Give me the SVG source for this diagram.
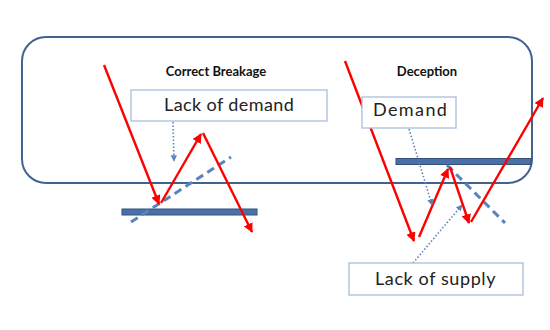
<svg xmlns="http://www.w3.org/2000/svg" width="550" height="330" viewBox="0 0 550 330">
<defs>
<style>
.frame{fill:none;stroke:#41648f;stroke-width:2}
.box{fill:#fff;stroke:#a9bfdc;stroke-width:1.3}
.lbl{font-family:Lato,"Open Sans",sans-serif;font-size:18px;fill:#222;letter-spacing:0.4px}
.ttl{font-family:Lato,"Open Sans",sans-serif;font-size:13px;font-weight:bold;fill:#111}
.red{fill:none;stroke:#ff0000;stroke-width:2.4;marker-end:url(#ra)}
.dash{fill:none;stroke:#5b84bd;stroke-width:3;stroke-dasharray:8 5}
.dot{fill:none;stroke:#5b84bd;stroke-width:1.6;stroke-dasharray:1.5 2;marker-end:url(#ba)}
.bar{fill:#4a70a8;stroke:#34507a;stroke-width:1}
</style>
<marker id="ra" viewBox="0 0 10 10" refX="9" refY="5" markerWidth="4" markerHeight="4" orient="auto" markerUnits="strokeWidth"><path d="M0,0L10,5L0,10z" fill="#ff0000"/></marker>
<marker id="ba" viewBox="0 0 10 10" refX="9" refY="5" markerWidth="4" markerHeight="4" orient="auto" markerUnits="strokeWidth"><path d="M0,0L10,5L0,10z" fill="#5b84bd"/></marker>
</defs>
<rect width="550" height="330" fill="#fff"/>
<g id="frame"><rect class="frame" x="22" y="37" width="510" height="146" rx="24" ry="24"/></g>
<g id="title-correct"><text class="ttl" x="216" y="76" text-anchor="middle">Correct Breakage</text></g>
<g id="title-deception"><text class="ttl" x="427" y="76" text-anchor="middle">Deception</text></g>
<g id="bar-left"><rect class="bar" x="122" y="209" width="135" height="6"/></g>
<g id="bar-right"><rect class="bar" x="396" y="158.500" width="135" height="6"/></g>
<g id="connectors">
<line class="dash" x1="131" y1="222" x2="231" y2="157"/>
<line class="dash" x1="447" y1="165" x2="505" y2="223"/>
<line class="red" x1="104" y1="65" x2="159" y2="204"/>
<line class="red" x1="161" y1="203" x2="201" y2="134"/>
<line class="red" x1="203" y1="133" x2="252" y2="232"/>
<line class="red" x1="345" y1="61" x2="414" y2="241"/>
<line class="red" x1="419" y1="237" x2="448" y2="169"/>
<line class="red" x1="450" y1="167" x2="469" y2="223"/>
<line class="red" x1="471" y1="222" x2="543" y2="98"/>
<line class="dot" x1="173" y1="122" x2="174" y2="161"/>
<line class="dot" x1="409" y1="129" x2="432" y2="205"/>
<line class="dot" x1="413" y1="263" x2="462" y2="205"/>
</g>
<g id="box-lack-demand"><rect class="box" x="131" y="90" width="196" height="31"/><text class="lbl" x="164" y="111">Lack of demand</text></g>
<g id="box-demand"><rect class="box" x="362" y="97" width="94" height="31"/><text class="lbl" x="373" y="116" style="letter-spacing:1.4px">Demand</text></g>
<g id="box-lack-supply"><rect class="box" x="349" y="263" width="174" height="32"/><text class="lbl" x="375" y="285" style="letter-spacing:0.6px">Lack of supply</text></g>
</svg>
